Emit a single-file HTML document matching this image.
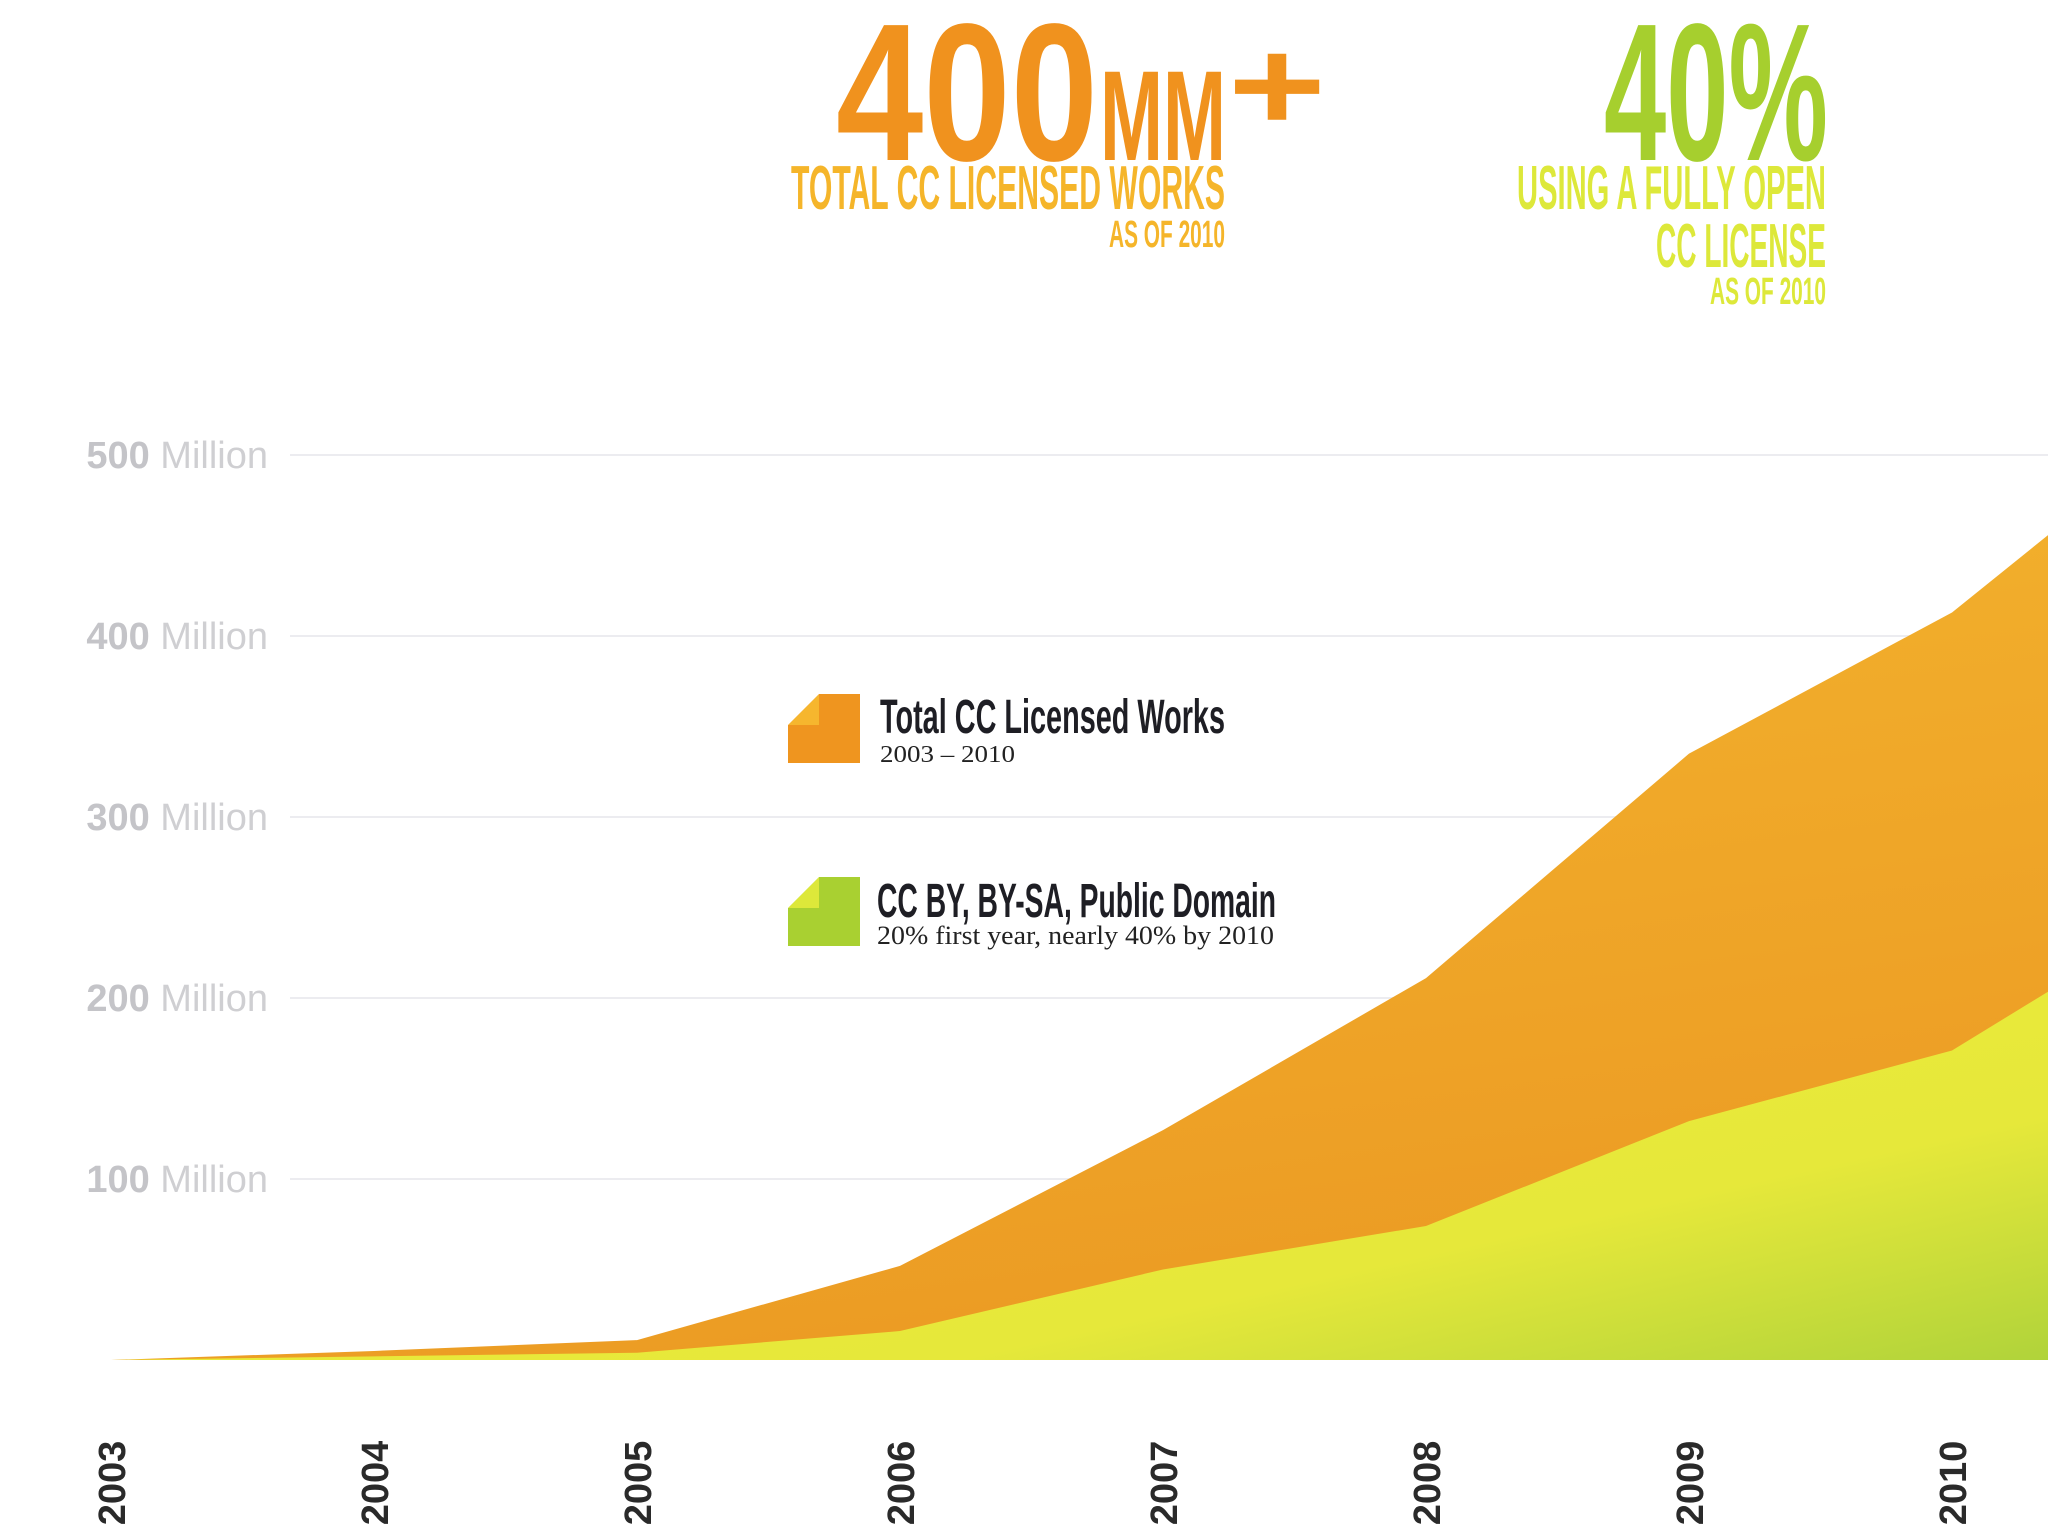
<!DOCTYPE html>
<html><head><meta charset="utf-8"><style>
html,body{margin:0;padding:0;background:#fff;}
svg{display:block;}
</style></head><body>
<svg id="chart" width="2048" height="1536" viewBox="0 0 2048 1536" xmlns="http://www.w3.org/2000/svg">
<defs>
<linearGradient id="gOrange" x1="0" y1="0" x2="0.3" y2="1">
<stop offset="0" stop-color="#f5b930"/><stop offset="1" stop-color="#ec9c24"/>
</linearGradient>
<linearGradient id="gGreen" x1="0" y1="0" x2="1" y2="1">
<stop offset="0" stop-color="#f2ee3c"/><stop offset="0.7" stop-color="#e6e83a"/><stop offset="1" stop-color="#a8d03a"/>
</linearGradient>
</defs>
<g id="grid"></g>
<g id="areas"></g>
<g id="xaxis"></g>

<g>
<text x="836" y="160" font-family="Liberation Sans Narrow, Liberation Sans, sans-serif" font-weight="bold" font-size="196" fill="#f0921e" textLength="262" lengthAdjust="spacingAndGlyphs">400</text>
<text x="1100" y="160" font-family="Liberation Sans Narrow, Liberation Sans, sans-serif" font-weight="bold" font-size="128" fill="#f0921e" textLength="126" lengthAdjust="spacingAndGlyphs">MM</text>
<text x="1228" y="130" font-family="Liberation Sans, sans-serif" font-weight="bold" font-size="130" fill="#f0921e" textLength="98" lengthAdjust="spacingAndGlyphs">+</text>
<text x="791" y="209" font-family="Liberation Sans Narrow, Liberation Sans, sans-serif" font-weight="bold" font-size="62" fill="#f5b52a" textLength="434" lengthAdjust="spacingAndGlyphs">TOTAL CC LICENSED WORKS</text>
<text x="1225" y="247" text-anchor="end" font-family="Liberation Sans Narrow, Liberation Sans, sans-serif" font-weight="bold" font-size="38" fill="#f5b52a" textLength="116" lengthAdjust="spacingAndGlyphs">AS OF 2010</text>
</g>
<g>
<text x="1604" y="160" font-family="Liberation Sans Narrow, Liberation Sans, sans-serif" font-weight="bold" font-size="196" fill="#a6cf2e" textLength="224" lengthAdjust="spacingAndGlyphs">40%</text>
<text x="1517" y="209" font-family="Liberation Sans Narrow, Liberation Sans, sans-serif" font-weight="bold" font-size="62" fill="#dde83a" textLength="309" lengthAdjust="spacingAndGlyphs">USING A FULLY OPEN</text>
<text x="1826" y="267" text-anchor="end" font-family="Liberation Sans Narrow, Liberation Sans, sans-serif" font-weight="bold" font-size="62" fill="#dde83a" textLength="170" lengthAdjust="spacingAndGlyphs">CC LICENSE</text>
<text x="1826" y="304" text-anchor="end" font-family="Liberation Sans Narrow, Liberation Sans, sans-serif" font-weight="bold" font-size="38" fill="#dde83a" textLength="116" lengthAdjust="spacingAndGlyphs">AS OF 2010</text>
</g>

<g>
<rect x="788" y="694" width="72" height="69" fill="#ef951f"/>
<polygon points="788,725 819,694 819,725" fill="#f6b62e"/>
<polygon points="788,725 819,694 788,694" fill="#fff"/>
<text x="880" y="733" font-family="Liberation Sans Narrow, Liberation Sans, sans-serif" font-weight="bold" font-size="48" fill="#1e1e24" textLength="345" lengthAdjust="spacingAndGlyphs">Total CC Licensed Works</text>
<text x="880" y="762" font-family="Liberation Serif, serif" font-size="24" fill="#222" textLength="135" lengthAdjust="spacingAndGlyphs">2003 – 2010</text>
</g>
<g>
<rect x="788" y="877" width="72" height="69" fill="#a9d031"/>
<polygon points="788,908 819,877 819,908" fill="#dde83a"/>
<polygon points="788,908 819,877 788,877" fill="#fff"/>
<text x="877" y="917" font-family="Liberation Sans Narrow, Liberation Sans, sans-serif" font-weight="bold" font-size="48" fill="#1e1e24" textLength="399" lengthAdjust="spacingAndGlyphs">CC BY, BY-SA, Public Domain</text>
<text x="877" y="944" font-family="Liberation Serif, serif" font-size="26" fill="#222" textLength="397" lengthAdjust="spacingAndGlyphs">20% first year, nearly 40% by 2010</text>
</g>
</svg>
<script>
const years = [2003, 2004, 2005, 2006, 2007, 2008, 2009, 2010, 2011];
const yearLabels = ["2003","2004","2005","2006","2007","2008","2009","2010"];
const totalWorks = [0, 5, 11, 52, 127, 211, 335, 413, 530];
const openWorks = [0, 2, 4, 16, 50, 74, 132, 171, 260];
const yTicks = [100, 200, 300, 400, 500];

const NS = "http://www.w3.org/2000/svg";
const x = yr => 111 + (yr - 2003) * 263;
const y = v => 1360 - v * 1.81;
const grid = document.getElementById('grid');
const areas = document.getElementById('areas');
const xaxis = document.getElementById('xaxis');

yTicks.forEach(t => {
  const l = document.createElementNS(NS, 'line');
  
  
  l.setAttribute('x1', 290); l.setAttribute('x2', 2048);
  l.setAttribute('y1', y(t)); l.setAttribute('y2', y(t));
  l.setAttribute('stroke', '#ececf0'); l.setAttribute('stroke-width', 2);
  grid.appendChild(l);
  const tx = document.createElementNS(NS, 'text');
  
  
  tx.setAttribute('x', 268); tx.setAttribute('y', y(t) + 13);
  tx.setAttribute('text-anchor', 'end');
  tx.setAttribute('font-family', 'Liberation Sans Narrow, Liberation Sans, sans-serif');
  tx.setAttribute('font-size', 38);
  tx.setAttribute('fill', '#cfcfd2');
  tx.innerHTML = '<tspan font-weight="bold" fill="#c4c4c8">' + t + '</tspan> Million';
  grid.appendChild(tx);
});

function areaPath(vals) {
  let d = 'M' + x(years[0]) + ',' + y(0);
  vals.forEach((v, i) => { d += ' L' + x(years[i]) + ',' + y(v); });
  d += ' L' + x(years[years.length - 1]) + ',' + y(0) + ' Z';
  return d;
}
const pt = document.createElementNS(NS, 'path');


pt.setAttribute('d', areaPath(totalWorks));
pt.setAttribute('fill', 'url(#gOrange)');
areas.appendChild(pt);
const pg = document.createElementNS(NS, 'path');


pg.setAttribute('d', areaPath(openWorks));
pg.setAttribute('fill', 'url(#gGreen)');
areas.appendChild(pg);

yearLabels.forEach(lbl => {
  const t = document.createElementNS(NS, 'text');
  
  
  const cx = x(+lbl) + 14;
  t.setAttribute('transform', 'translate(' + cx + ',1483) rotate(-90)');
  t.setAttribute('text-anchor', 'middle');
  t.setAttribute('font-family', 'Liberation Sans, sans-serif');
  t.setAttribute('font-weight', '600');
  t.setAttribute('font-size', 38);
  t.setAttribute('fill', '#2a2a2a');
  t.textContent = lbl;
  xaxis.appendChild(t);
});
</script>
</body></html>
